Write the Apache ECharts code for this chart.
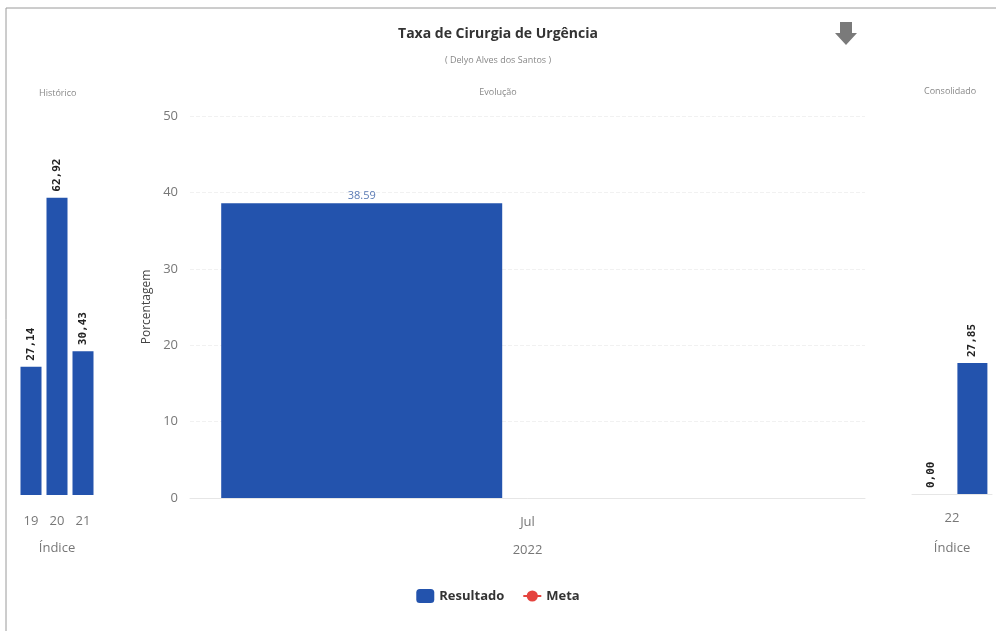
<!DOCTYPE html>
<html>
<head>
<meta charset="utf-8">
<script src="https://cdn.jsdelivr.net/npm/echarts@6/dist/echarts.min.js"></script>
<style>
html,body{margin:0;padding:0;background:#fff;}
#chart{width:996px;height:631px;}
</style>
</head>
<body>
<div id="chart"></div>
<script>
// ---- data ----
const histCategories = ['19', '20', '21'];
const histValues = [27.14, 62.92, 30.43];
const evoCategories = ['Jul'];
const evoYear = '2022';
const resultadoValues = [38.59];
const metaValues = [null];
const consCategories = ['22'];
const consMetaValues = [0.00];
const consResultValues = [27.85];
const evoTicks = [0, 10, 20, 30, 40, 50];

const BLUE = '#2353ad';
const RED = '#e5443f';
const FONT = '"Open Sans", "DejaVu Sans", sans-serif';
const comma = v => Number(v).toFixed(2).replace('.', ',');

const sideLabel = {
  show: true, position: 'top', rotate: 90, align: 'left', verticalAlign: 'middle',
  distance: 6, fontFamily: '"DejaVu Sans Mono", monospace', fontWeight: 'bold',
  fontSize: 11, color: '#222', formatter: p => comma(p.value)
};
const catLabel = { color: '#777', fontSize: 13, fontFamily: FONT, margin: 20 };
const nameStyle = { color: '#777', fontSize: 13, fontFamily: FONT };

const chart = echarts.init(document.getElementById('chart'));
chart.setOption({
  backgroundColor: '#fff',
  animation: false,
  textStyle: { fontFamily: FONT },
  title: [
    { text: 'Taxa de Cirurgia de Urgência', left: 'center', top: 22,
      textStyle: { fontSize: 14, fontWeight: 'bold', color: '#333', fontFamily: FONT } },
    { text: '( Delyo Alves dos Santos )', left: 'center', top: 51,
      textStyle: { fontSize: 9, fontWeight: 'normal', color: '#888', fontFamily: FONT } },
    { text: 'Evolução', left: 'center', top: 83,
      textStyle: { fontSize: 9, fontWeight: 'normal', color: '#888', fontFamily: FONT } },
    { text: 'Histórico', left: 34, top: 84,
      textStyle: { fontSize: 9, fontWeight: 'normal', color: '#888', fontFamily: FONT } },
    { text: 'Consolidado', left: 919, top: 82,
      textStyle: { fontSize: 9, fontWeight: 'normal', color: '#888', fontFamily: FONT } }
  ],
  legend: {
    data: ['Resultado', 'Meta'], bottom: 23, left: 'center',
    itemWidth: 18, itemHeight: 14, itemGap: 18,
    textStyle: { fontSize: 13, fontWeight: 'bold', color: '#333', fontFamily: FONT }
  },
  grid: [
    { left: 18, top: 117, width: 78, height: 378 },
    { left: 190, top: 116, width: 675, height: 382 },
    { left: 912, top: 118, width: 80, height: 376 }
  ],
  xAxis: [
    { type: 'category', gridIndex: 0, data: histCategories,
      axisLine: { show: false }, axisTick: { show: false },
      axisLabel: catLabel, name: 'Índice', nameLocation: 'middle', nameGap: 47, nameTextStyle: nameStyle },
    { type: 'category', gridIndex: 1, data: evoCategories,
      axisLine: { lineStyle: { color: '#e6e6e6' } }, axisTick: { show: false },
      axisLabel: Object.assign({}, catLabel, { margin: 18 }),
      name: evoYear, nameLocation: 'middle', nameGap: 46, nameTextStyle: nameStyle },
    { type: 'category', gridIndex: 2, data: consCategories,
      axisLine: { lineStyle: { color: '#e6e6e6' } }, axisTick: { show: false },
      axisLabel: Object.assign({}, catLabel, { margin: 18 }),
      name: 'Índice', nameLocation: 'middle', nameGap: 48, nameTextStyle: nameStyle }
  ],
  yAxis: [
    { type: 'value', gridIndex: 0, min: 0, max: 80, show: false },
    { type: 'value', gridIndex: 1, min: evoTicks[0], max: evoTicks[evoTicks.length - 1], interval: 10,
      name: 'Porcentagem', nameLocation: 'middle', nameGap: 36,
      nameTextStyle: { color: '#444', fontSize: 12, fontFamily: FONT },
      axisLine: { show: false }, axisTick: { show: false },
      axisLabel: { color: '#777', fontSize: 13, margin: 12, fontFamily: FONT },
      splitLine: { lineStyle: { color: '#f1f1f1', type: 'dashed' } } },
    { type: 'value', gridIndex: 2, min: 0, max: 80, show: false }
  ],
  series: [
    { name: 'Histórico', type: 'bar', xAxisIndex: 0, yAxisIndex: 0, data: histValues,
      barWidth: 21, barGap: '20%', itemStyle: { color: BLUE }, label: sideLabel },
    { name: 'Resultado', type: 'bar', xAxisIndex: 1, yAxisIndex: 1, data: resultadoValues,
      barWidth: 281, barGap: '18%', itemStyle: { color: BLUE },
      label: { show: true, position: 'top', distance: 2, color: '#5b7bb5', fontSize: 11, fontFamily: FONT,
        formatter: p => Number(p.value).toFixed(2) } },
    { name: '_slot', type: 'bar', xAxisIndex: 1, yAxisIndex: 1, data: [null],
      barWidth: 281, itemStyle: { color: 'transparent' } },
    { name: 'Meta', type: 'line', xAxisIndex: 1, yAxisIndex: 1, data: metaValues,
      symbol: 'circle', symbolSize: 6, itemStyle: { color: RED }, lineStyle: { color: RED, width: 2 } },
    { name: 'ConsMeta', type: 'bar', xAxisIndex: 2, yAxisIndex: 2, data: consMetaValues,
      barWidth: 30, barGap: '36%', itemStyle: { color: '#ffffff' }, label: sideLabel },
    { name: 'ConsResult', type: 'bar', xAxisIndex: 2, yAxisIndex: 2, data: consResultValues,
      barWidth: 30, itemStyle: { color: BLUE }, label: sideLabel }
  ],
  graphic: [
    { type: 'line', shape: { x1: 6, y1: 8, x2: 6, y2: 631 }, style: { stroke: '#9a9a9a', lineWidth: 1 } },
    { type: 'line', shape: { x1: 6, y1: 8, x2: 996, y2: 8 }, style: { stroke: '#9a9a9a', lineWidth: 1 } },
    { type: 'polygon', shape: { points: [[840, 22], [852, 22], [852, 33], [857, 33], [846, 45], [835, 33], [840, 33]] },
      style: { fill: '#7a7a7a' } }
  ]
});
</script>
</body>
</html>
